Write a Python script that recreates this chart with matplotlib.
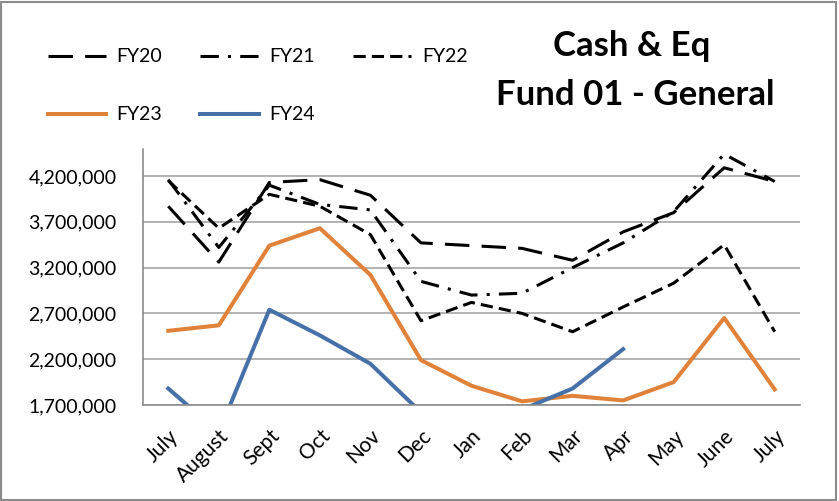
import matplotlib
matplotlib.use("Agg")
import matplotlib.pyplot as plt
from matplotlib.patches import Rectangle
from matplotlib.ticker import FuncFormatter

plt.rcParams['font.family'] = ['Lato', 'DejaVu Sans']

# data
months = ['July', 'August', 'Sept', 'Oct', 'Nov', 'Dec', 'Jan', 'Feb',
          'Mar', 'Apr', 'May', 'June', 'July']
fy20 = [3870000, 3260000, 4130000, 4160000, 3990000, 3470000, 3440000,
        3410000, 3280000, 3590000, 3800000, 4290000, 4140000]
fy21 = [4160000, 3420000, 4100000, 3890000, 3830000, 3050000, 2900000,
        2920000, 3200000, 3470000, 3810000, 4440000, 4140000]
fy22 = [4150000, 3630000, 4000000, 3870000, 3560000, 2620000, 2820000,
        2700000, 2500000, 2770000, 3030000, 3450000, 2500000]
fy23 = [2510000, 2570000, 3440000, 3630000, 3120000, 2190000, 1910000,
        1740000, 1800000, 1750000, 1950000, 2650000, 1870000]
fy24 = [1880000, 1400000, 2740000, 2460000, 2150000, 1620000, 1560000,
        1650000, 1880000, 2310000]
yticks = [1700000, 2200000, 2700000, 3200000, 3700000, 4200000]

fig = plt.figure(figsize=(8.39, 5.01), dpi=100)
ax = fig.add_axes([143 / 839, 1 - 405 / 501, 657 / 839, 256 / 501])

x = list(range(len(months)))
l20, = ax.plot(x, fy20, color='black', lw=2.2, dashes=(8, 4), label='FY20')
l21, = ax.plot(x, fy21, color='black', lw=2.2, dashes=(6, 3, 1, 3), label='FY21')
l22, = ax.plot(x, fy22, color='black', lw=2.2, dashes=(4, 2), label='FY22')
l23, = ax.plot(x, fy23, color='#E1823A', lw=2.9, label='FY23')
l24, = ax.plot(x[:len(fy24)], fy24, color='#4671A8', lw=2.9, label='FY24')

ax.set_xlim(-0.5, len(months) - 0.5)
ax.set_ylim(1700000, 4495000)
ax.set_yticks(yticks)
ax.yaxis.set_major_formatter(FuncFormatter(lambda v, p: f'{v:,.0f}'))
ax.grid(axis='y', color='#A6A6A6', lw=1.2)
ax.set_axisbelow(True)
ax.set_xticks(x)
ax.set_xticklabels(months, rotation=45, ha='right', rotation_mode='anchor')
ax.tick_params(axis='y', length=0, pad=19, labelsize=14)
ax.tick_params(axis='x', length=0, pad=15, labelsize=15)
for s in ['top', 'right']:
    ax.spines[s].set_visible(False)
for s in ['left', 'bottom']:
    ax.spines[s].set_color('#8C8C8C')
    ax.spines[s].set_linewidth(1.2)

# legend laid out column-major so rows read FY20 FY21 FY22 / FY23 FY24
handles = [l20, l23, l21, l24, l22]
fig.legend(handles, [h.get_label() for h in handles], ncol=3,
           loc='upper left', bbox_to_anchor=(30 / 839, 1 - 31 / 501),
           frameon=False, fontsize=14, handlelength=3, handletextpad=0.55,
           columnspacing=1.95, labelspacing=2.1)

fig.text(632 / 839, 1 - 46 / 501, 'Cash & Eq', ha='center', va='center',
         fontsize=25, fontweight='bold')
fig.text(635 / 839, 1 - 95 / 501, 'Fund 01 - General', ha='center', va='center',
         fontsize=25, fontweight='bold')

fig.patches.append(Rectangle((0.001, 0.002), 0.996, 0.995, transform=fig.transFigure,
                             fill=False, edgecolor='#8C8C8C', lw=1.5))

fig.savefig('out.png', dpi=100)
